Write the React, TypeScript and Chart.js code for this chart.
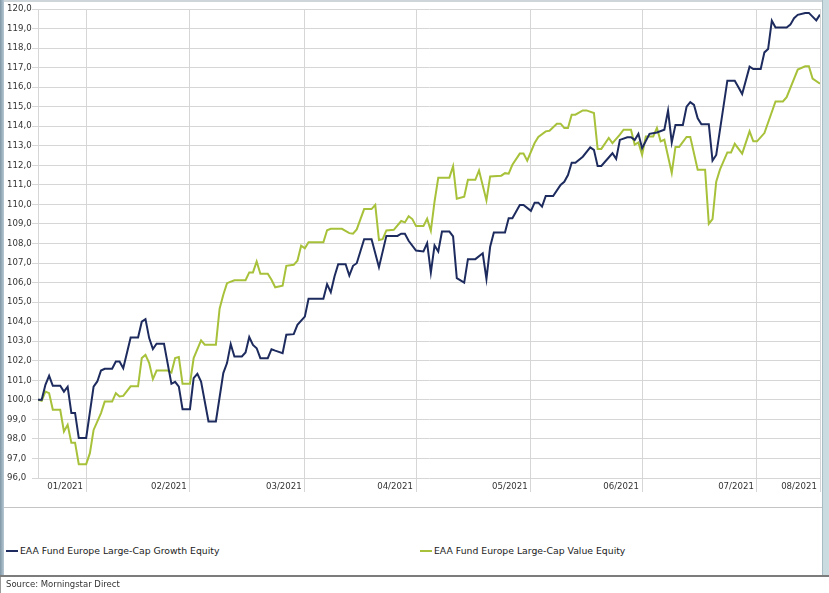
import React, { useEffect, useRef } from "react";
import { Chart, registerables } from "chart.js";

Chart.register(...registerables);

// Day offsets from 19 Jan 2021
const growthDay = [
  0, 1, 2, 3, 4, 6, 7, 8, 9, 10, 11, 13, 15, 16, 17, 18, 20, 21, 22, 23,
  25, 27, 28, 29, 30, 31, 32, 34, 36, 37, 38, 39, 41, 42, 43, 44, 46, 48, 50, 51,
  52, 53, 55, 56, 57, 58, 59, 60, 62, 63, 64, 66, 67, 69, 70, 72, 73, 77, 78, 79,
  80, 81, 83, 84, 85, 86, 88, 90, 92, 94, 97, 98, 99, 100, 102, 104, 105, 106, 107, 108,
  109, 111, 112, 113, 115, 116, 118, 120, 121, 122, 123, 126, 127, 128, 130, 131, 133, 134, 135, 136,
  137, 139, 141, 142, 143, 144, 145, 147, 149, 150, 151, 152, 155, 156, 157, 159, 160, 161, 162, 163,
  165, 167, 169, 170, 171, 172, 174, 175, 176, 177, 178, 179, 181, 182, 183, 186, 188, 189, 190, 192,
  193, 195, 196, 197, 198, 199, 202, 203, 204, 205, 207, 208, 210, 211,
];
const growthValue = [
  100.0, 100.0, 100.77, 101.23, 100.72, 100.72, 100.42, 100.67, 99.33, 99.33, 98.05, 98.05, 100.68, 100.94, 101.5, 101.59, 101.59, 101.96, 101.96, 101.62,
  103.19, 103.19, 104.0, 104.13, 103.16, 102.6, 102.87, 102.87, 100.82, 100.92, 100.68, 99.52, 99.52, 101.11, 101.33, 100.94, 98.89, 98.89, 101.37, 101.88,
  102.85, 102.22, 102.22, 102.42, 103.21, 102.81, 102.64, 102.13, 102.13, 102.59, 102.52, 102.39, 103.33, 103.36, 103.84, 104.26, 105.17, 105.17, 105.92, 105.51,
  106.31, 106.94, 106.94, 106.36, 106.86, 106.99, 108.22, 108.22, 106.79, 108.39, 108.39, 108.5, 108.5, 108.14, 107.64, 107.59, 108.02, 106.51, 107.9, 107.59,
  108.61, 108.61, 108.36, 106.23, 106.0, 107.2, 107.2, 107.5, 106.19, 107.84, 108.56, 108.56, 109.29, 109.29, 109.97, 109.97, 109.67, 110.09, 110.09, 109.89,
  110.43, 110.43, 111.0, 111.16, 111.5, 112.13, 112.13, 112.44, 112.92, 112.79, 111.97, 111.97, 112.62, 112.33, 113.3, 113.44, 113.44, 113.3, 113.61, 112.88,
  113.61, 113.68, 113.82, 114.8, 113.17, 114.07, 114.07, 115.0, 115.23, 115.09, 114.41, 114.1, 114.1, 112.24, 112.53, 116.33, 116.33, 116.0, 115.65, 117.05,
  116.93, 116.93, 117.78, 117.95, 119.4, 119.05, 119.05, 119.2, 119.53, 119.7, 119.8, 119.8, 119.42, 119.71,
];

const valueDay = [
  0, 1, 2, 3, 4, 6, 7, 8, 9, 10, 11, 13, 14, 15, 17, 18, 20, 21, 22, 23,
  25, 27, 28, 29, 30, 31, 32, 35, 36, 37, 38, 39, 41, 42, 44, 45, 48, 49, 50, 51,
  53, 56, 57, 58, 59, 60, 62, 63, 64, 66, 67, 69, 70, 71, 72, 73, 77, 78, 79, 82,
  84, 85, 86, 88, 90, 91, 92, 93, 94, 96, 98, 99, 100, 101, 102, 104, 105, 106, 107, 108,
  111, 112, 113, 115, 116, 118, 119, 121, 122, 125, 126, 127, 128, 130, 131, 132, 134, 135, 137, 138,
  140, 141, 142, 143, 144, 145, 147, 148, 150, 151, 152, 154, 155, 157, 158, 160, 161, 162, 163, 164,
  166, 167, 168, 169, 171, 172, 173, 175, 176, 178, 180, 181, 182, 183, 184, 186, 187, 188, 190, 192,
  193, 194, 196, 199, 201, 202, 205, 207, 208, 209, 211,
];
const valueValue = [
  100.0, 99.95, 100.42, 100.34, 99.49, 99.49, 98.38, 98.72, 97.81, 97.81, 96.71, 96.71, 97.27, 98.46, 99.32, 99.91, 99.91, 100.34, 100.17, 100.2,
  100.69, 100.69, 102.14, 102.3, 101.88, 101.06, 101.5, 101.5, 101.4, 102.14, 102.19, 100.82, 100.82, 102.14, 103.04, 102.82, 102.82, 104.66, 105.38, 105.97,
  106.12, 106.12, 106.52, 106.52, 107.08, 106.45, 106.45, 106.14, 105.76, 105.84, 106.86, 106.91, 107.12, 107.89, 107.75, 108.06, 108.06, 108.68, 108.75, 108.75,
  108.53, 108.5, 108.72, 109.76, 109.76, 109.98, 108.18, 108.22, 108.67, 108.7, 109.15, 109.08, 109.4, 109.25, 108.89, 108.89, 109.27, 108.65, 110.15, 111.37,
  111.37, 111.96, 110.29, 110.4, 111.26, 111.26, 111.74, 110.2, 111.43, 111.47, 111.6, 111.57, 112.03, 112.6, 112.6, 112.24, 113.14, 113.45, 113.74, 113.77,
  114.13, 114.13, 113.91, 113.91, 114.59, 114.59, 114.81, 114.81, 114.68, 112.84, 112.84, 113.4, 113.14, 113.57, 113.82, 113.82, 113.06, 113.17, 112.54, 113.48,
  113.48, 113.91, 113.23, 113.31, 111.61, 112.94, 112.94, 113.45, 113.45, 111.78, 111.78, 109.01, 109.25, 111.16, 111.78, 112.66, 112.66, 113.1, 112.6, 113.74,
  113.23, 113.23, 113.65, 115.27, 115.27, 115.49, 116.9, 117.07, 117.07, 116.44, 116.18,
];

// Month boundaries (day offsets) and their labels; the last one is the end of the range
const xTickDays = [13, 41, 72, 102, 133, 163, 194, 211];
const xTickLabels = ["01/2021", "02/2021", "03/2021", "04/2021", "05/2021", "06/2021", "07/2021", "08/2021"];

const seriesNames = ["EAA Fund Europe Large-Cap Growth Equity", "EAA Fund Europe Large-Cap Value Equity"];
const NAVY = "#1d2b5e";
const LIME = "#a7c23a";
const GRID = "#d6d6d6";
const FONT = '"DejaVu Sans", Verdana, sans-serif';

export default function App() {
  const ref = useRef<HTMLCanvasElement>(null);

  useEffect(() => {
    if (!ref.current) return;
    const tickFont = { family: FONT, size: 8.6 };
    const chart = new Chart(ref.current, {
      type: "line",
      data: {
        datasets: [
          {
            label: seriesNames[0],
            data: growthDay.map((d, i) => ({ x: d, y: growthValue[i] })),
            borderColor: NAVY,
            backgroundColor: NAVY,
            borderWidth: 2,
            pointRadius: 0,
            tension: 0,
          },
          {
            label: seriesNames[1],
            data: valueDay.map((d, i) => ({ x: d, y: valueValue[i] })),
            borderColor: LIME,
            backgroundColor: LIME,
            borderWidth: 2,
            pointRadius: 0,
            tension: 0,
          },
        ],
      },
      options: {
        responsive: false,
        animation: false,
        layout: { padding: { left: 7, right: 9, top: 9, bottom: 0 } },
        plugins: { legend: { display: false }, tooltip: { enabled: false } },
        scales: {
          x: {
            type: "linear",
            min: 0,
            max: 211,
            afterBuildTicks: (axis: any) => {
              axis.ticks = xTickDays.map((v) => ({ value: v }));
            },
            afterFit: (axis: any) => {
              axis.height = 27;
            },
            ticks: {
              autoSkip: false,
              maxRotation: 0,
              minRotation: 0,
              labelOffset: -21,
              padding: -10,
              color: "#333",
              font: tickFont,
              callback: (v: any) => {
                const i = xTickDays.indexOf(Number(v));
                return i >= 0 ? xTickLabels[i] : "";
              },
            },
            grid: { color: GRID, tickLength: 14, drawTicks: true },
            border: { display: false },
          },
          y: {
            min: 96,
            max: 120,
            afterFit: (axis: any) => {
              axis.width = 31;
            },
            ticks: {
              stepSize: 1,
              crossAlign: "far",
              color: "#333",
              font: tickFont,
              callback: (v: any) => Number(v).toFixed(1).replace(".", ","),
            },
            grid: { color: GRID, tickLength: 6 },
            border: { color: GRID },
          },
        },
      },
    });
    return () => chart.destroy();
  }, []);

  const legendText: React.CSSProperties = {
    position: "absolute",
    top: 545,
    fontFamily: FONT,
    fontSize: 9.3,
    lineHeight: "12px",
    color: "#222",
    whiteSpace: "nowrap",
  };

  return (
    <div
      style={{
        position: "absolute",
        left: 0,
        top: 0,
        width: 829,
        height: 593,
        background: "#fff",
        overflow: "hidden",
      }}
    >
      <canvas ref={ref} width={829} height={505} style={{ position: "absolute", left: 0, top: 0, display: "block" }} />
      {/* frame */}
      <div style={{ position: "absolute", left: 0, top: 0, width: 829, height: 2, background: "#cfd6da" }} />
      <div style={{ position: "absolute", left: 0, top: 0, width: 4, height: 576, background: "linear-gradient(to right,#7f96a6,#b9cad5)" }} />
      <div style={{ position: "absolute", left: 822, top: 0, width: 7, height: 576, background: "#cbdce1", borderLeft: "1px solid #a8bcc4" }} />
      <div style={{ position: "absolute", left: 4, top: 507, width: 818, height: 1, background: "#c4c4c4" }} />
      <div style={{ position: "absolute", left: 0, top: 575, width: 829, height: 2, background: "#7c7c7c" }} />
      <div style={{ position: "absolute", left: 0, top: 577, width: 1, height: 16, background: "#9a9a9a" }} />
      {/* legend */}
      <div style={{ position: "absolute", left: 6, top: 550, width: 12, height: 2, background: NAVY }} />
      <div style={{ ...legendText, left: 20 }}>{seriesNames[0]}</div>
      <div style={{ position: "absolute", left: 420, top: 550, width: 12, height: 2, background: LIME }} />
      <div style={{ ...legendText, left: 434 }}>{seriesNames[1]}</div>
      {/* source */}
      <div
        style={{
          position: "absolute",
          left: 6,
          top: 579,
          fontFamily: FONT,
          fontSize: 8.5,
          lineHeight: "11px",
          color: "#333",
          whiteSpace: "nowrap",
        }}
      >
        Source: Morningstar Direct
      </div>
    </div>
  );
}
